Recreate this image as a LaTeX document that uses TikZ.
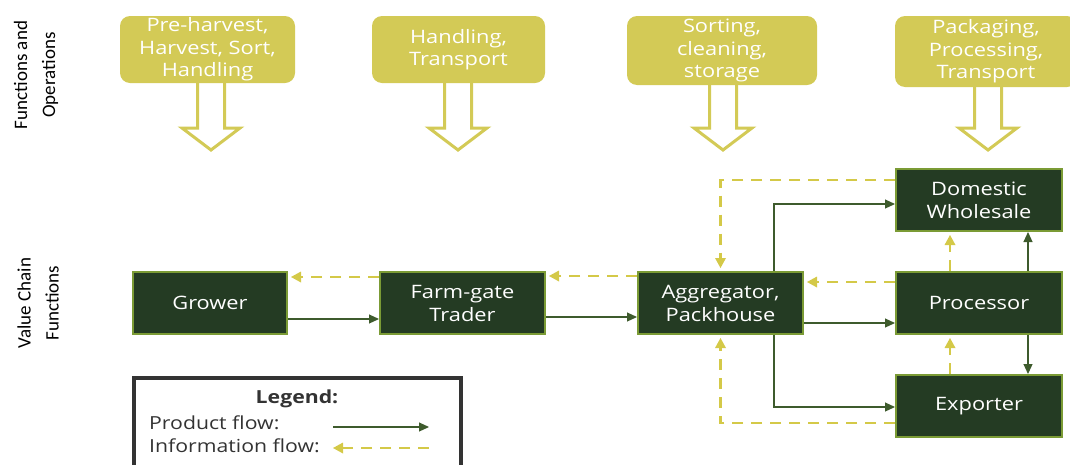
\documentclass[tikz,border=0pt]{standalone}
\usepackage{fontspec}
\setmainfont{Open Sans}
\newfontfamily\boxfont[FakeStretch=1.18]{Open Sans}
\newfontfamily\sidefont{Carlito}
\usetikzlibrary{arrows.meta}
\definecolor{dkgreen}{HTML}{243B23}
\definecolor{bordgreen}{HTML}{7B9B35}
\definecolor{topyel}{HTML}{D3CA56}
\definecolor{dashyel}{HTML}{D4C948}
\definecolor{prodgreen}{HTML}{3E5B2D}
\definecolor{legframe}{HTML}{333333}
\tikzset{
  vcbox/.style={draw=bordgreen, line width=2pt, fill=dkgreen, text=white,
    minimum height=62pt, inner sep=0pt, align=center,
    font=\boxfont\fontsize{18.5}{23}\selectfont},
  topbox/.style={fill=topyel, rounded corners=10pt, text=white, inner sep=0pt,
    align=center, font=\boxfont\fontsize{18.5}{22.5}\selectfont},
  harrow/.style={draw=topyel, line width=3pt, fill=white, line join=miter},
  prod/.style={draw=prodgreen, line width=1.1pt, -{Triangle[length=10pt,width=9pt]}},
  info/.style={draw=dashyel, line width=2.6pt, dash pattern=on 11pt off 8pt,
    -{Triangle[length=10pt,width=11pt,line width=0pt]}, shorten >=3pt},
  sidelab/.style={rotate=90, align=center, font=\sidefont\fontsize{19}{28}\selectfont, inner sep=0pt},
  legtext/.style={anchor=west, inner sep=0pt, font=\boxfont\fontsize{18}{22}\selectfont, text=black!80}
}
\newcommand{\hollowarr}[2]{%
  \draw[harrow] (#1-13.5,#2) -- (#1-13.5,128) -- (#1-29,128) -- (#1,150) -- (#1+29,128) -- (#1+13.5,128) -- (#1+13.5,#2);}
\begin{document}
\begin{tikzpicture}[x=1pt,y=-1pt]
\useasboundingbox (0,0) rectangle (1070,464);
% side labels
\node[sidelab] (lab1) at (36,75) {Functions and\\Operations};
\node[sidelab] (lab2) at (38,303) {Value Chain\\Functions};
% hollow arrows
\hollowarr{211}{78}
\hollowarr{458}{78}
\hollowarr{723}{80}
\hollowarr{988}{82}
% top boxes
\node[topbox, minimum width=175pt, minimum height=67pt] (t1) at (207.5,49.5) {Pre-harvest,\\Harvest, Sort,\\Handling};
\node[topbox, minimum width=173pt, minimum height=67pt] (t2) at (458.5,49.5) {Handling,\\Transport};
\node[topbox, minimum width=190pt, minimum height=69pt] (t3) at (722,50.5) {Sorting,\\cleaning,\\storage};
\node[topbox, minimum width=182pt, minimum height=71pt] (t4) at (986,51.5) {Packaging,\\Processing,\\Transport};
% value chain boxes
\node[vcbox, minimum width=154pt] (grow) at (210,303) {Grower};
\node[vcbox, minimum width=165pt] (trad) at (462.5,303) {Farm-gate\\Trader};
\node[vcbox, minimum width=165pt] (agg) at (720.5,303) {Aggregator,\\Packhouse};
\node[vcbox, minimum width=166pt] (dom) at (979,200) {Domestic\\Wholesale};
\node[vcbox, minimum width=166pt] (proc) at (979,303) {Processor};
\node[vcbox, minimum width=166pt] (exp) at (979,406) {Exporter};
% product flows
\draw[prod] ([yshift=-16pt]grow.east) -- ([yshift=-16pt]trad.west);
\draw[prod] ([yshift=-14pt]trad.east) -- ([yshift=-14pt]agg.west);
\draw[prod] ([yshift=-20pt]agg.east) -- ([yshift=-20pt]proc.west);
\draw[prod] ([xshift=53.5pt]agg.north) |- ([yshift=-4pt]dom.west);
\draw[prod] ([xshift=53.5pt]agg.south) |- ([yshift=-1pt]exp.west);
\draw[prod] ([xshift=49pt]proc.north) -- ([xshift=49pt]dom.south);
\draw[prod] ([xshift=49pt]proc.south) -- ([xshift=49pt]exp.north);
% information flows
\draw[info] ([yshift=26pt]trad.west) -- ([yshift=26pt]grow.east);
\draw[info] ([yshift=27pt]agg.west) -- ([yshift=27pt]trad.east);
\draw[info] ([yshift=21pt]proc.west) -- ([yshift=21pt]agg.east);
\draw[info] ([yshift=20pt]dom.west) -| (agg.north);
\draw[info] ([yshift=-17pt]exp.west) -| (agg.south);
\draw[info] ([xshift=-29pt]proc.north) -- ([xshift=-29pt]dom.south);
\draw[info] ([xshift=-29pt]exp.north) -- ([xshift=-29pt]proc.south);
% legend
\draw[legframe, line width=4pt] (134,466) -- (134,378) -- (461,378) -- (461,466);
\node[font=\boxfont\bfseries\fontsize{18}{22}\selectfont, text=black!80, inner sep=0pt] (legt) at (297,399) {Legend:};
\node[legtext] (lp) at (149,423) {Product flow:};
\node[legtext] (li) at (149,446) {Information flow:};
\coordinate (lp1) at (333,427);
\coordinate (lp2) at (429,427);
\coordinate (li1) at (429,448);
\coordinate (li2) at (333,448);
\draw[prod] (lp1) -- (lp2);
\draw[info, shorten >=0pt] (li1) -- (li2);
\end{tikzpicture}
\end{document}
